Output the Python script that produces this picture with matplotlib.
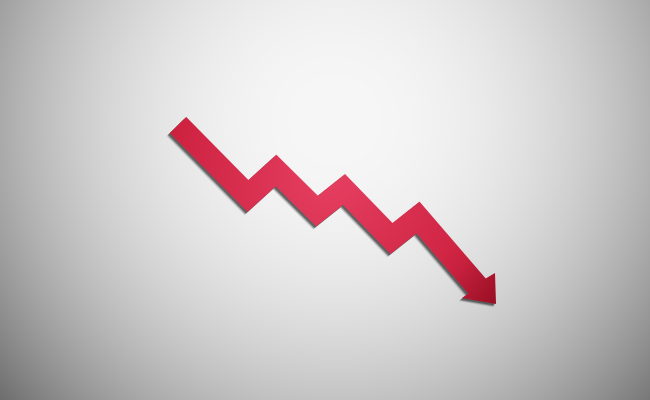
import numpy as np
import matplotlib
matplotlib.use('Agg')
import matplotlib.pyplot as plt
from matplotlib.patches import Polygon

# Zigzag centreline (image pixel coordinates, y pointing down)
path_x = [178, 248, 276, 317, 344, 391.5, 418, 477]
path_y = [125, 196, 170.5, 211, 189.5, 238.5, 217.5, 286]
band_width = 23
# Arrowhead vertices: top, tip, left
head_x = [495, 496, 462]
head_y = [273, 304, 298]

W, H = 650, 400

fig = plt.figure(figsize=(6.5, 4), dpi=100)
ax = fig.add_axes([0, 0, 1, 1])
ax.set_xlim(0, W)
ax.set_ylim(H, 0)
ax.axis('off')

# background radial gradient
gx, gy = np.meshgrid(np.arange(W) + 0.5, np.arange(H) + 0.5)
d = np.hypot(gx - 335, gy - 120) / 360.0
g = 247 - 90 * d ** 2.2
g = np.clip(g, 0, 255) / 255.0
bg = np.dstack([g, g, g])
ax.imshow(bg, extent=(0, W, H, 0), origin='upper', zorder=0, interpolation='bilinear')

# build outline of the thick band
P = np.column_stack([path_x, path_y]).astype(float)
h = band_width / 2.0
segs = np.diff(P, axis=0)
segs = segs / np.linalg.norm(segs, axis=1)[:, None]
normals = np.column_stack([segs[:, 1], -segs[:, 0]])
offs = []
for i in range(len(P)):
    if i == 0:
        offs.append(normals[0] * h)
    elif i == len(P) - 1:
        offs.append(normals[-1] * h)
    else:
        n = normals[i - 1] + normals[i]
        n = n / np.linalg.norm(n)
        offs.append(n * h / np.dot(n, normals[i - 1]))
offs = np.array(offs)
upper = P + offs
lower = P - offs
head = np.column_stack([head_x, head_y]).astype(float)
outline = np.vstack([upper, head, lower[::-1]])

# shadow
for dx, dy, a in [(-3.2, 3.2, 0.15), (-2.4, 2.4, 0.35), (-1.6, 1.6, 0.55)]:
    ax.add_patch(Polygon(outline + np.array([dx, dy]), closed=True,
                         facecolor='#333333', edgecolor='none', alpha=a, zorder=2))

# red gradient fill clipped to the arrow
light = np.array([230, 64, 98]) / 255.0
mid = np.array([206, 34, 64]) / 255.0
dark = np.array([168, 14, 36]) / 255.0
dist = np.hypot(gx - 330, gy - 175)
t = np.clip(dist / 160.0, 0, 1)
t2 = np.clip((dist - 160) / 60.0, 0, 1)
rgb = light[None, None, :] * (1 - t[..., None]) + mid[None, None, :] * t[..., None]
rgb = rgb * (1 - t2[..., None]) + dark[None, None, :] * t2[..., None]
rgb = np.where((gx + gy > 700)[..., None],
               rgb * (1 - np.clip((gx + gy - 700) / 120, 0, 1)[..., None] * 0.15), rgb)
poly = Polygon(outline, closed=True, facecolor='none', edgecolor='none', zorder=3)
ax.add_patch(poly)
im = ax.imshow(rgb, extent=(0, W, H, 0), origin='upper', zorder=3, interpolation='bilinear')
im.set_clip_path(poly)

fig.savefig('out.png', dpi=100)
